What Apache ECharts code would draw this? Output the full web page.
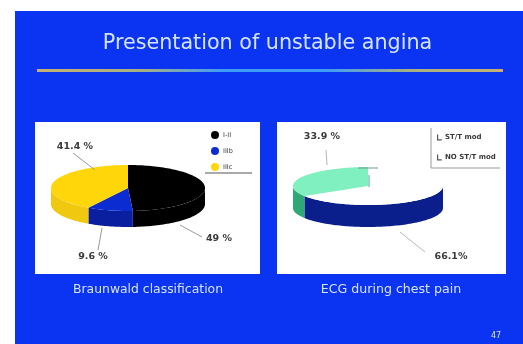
<!DOCTYPE html>
<html>
<head>
<meta charset="utf-8">
<style>html,body{margin:0;padding:0;background:#fff}#chart{width:523px;height:344px}</style>
<script src="https://cdn.jsdelivr.net/npm/echarts@6/dist/echarts.min.js"></script>
</head>
<body>
<div id="chart"></div>
<script>
// Slide data: Braunwald classes and ECG findings, in percent
const braunwaldNames = ['I-II', 'IIIb', 'IIIc'];
const braunwaldValues = [49, 9.6, 41.4];
const braunwaldLabels = ['49 %', '9.6 %', '41.4 %'];
const ecgNames = ['NO ST/T mod', 'ST/T mod'];
const ecgValues = [66.1, 33.9];
const ecgLabels = ['66.1%', '33.9 %'];

const slideTitle = 'Presentation of unstable angina';
const captionLeft = 'Braunwald classification';
const captionRight = 'ECG during chest pain';
const pageNumber = '47';

const BLUE = '#0a33f2';
const FONT = '"DejaVu Sans", sans-serif';

// Tilted pie geometry: angles run clockwise from twelve o'clock
const pies = [
  { cx: 128, cy: 188, rx: 77, ry: 23, depth: 16,
    names: braunwaldNames, values: braunwaldValues,
    top: ['#000000', '#0a2cd0', '#ffd60a'],
    wall: ['#000000', '#0a1ea0', '#f0c810'] },
  { cx: 368, cy: 186, rx: 75, ry: 19, depth: 22,
    names: ecgNames, values: ecgValues,
    top: ['#ffffff', '#80f0c0'],
    wall: ['#0a1e8c', '#2fa878'] }
];

function rimPoint(p, a, dy) {
  return [p.cx + p.rx * Math.sin(a), p.cy - p.ry * Math.cos(a) + (dy || 0)];
}

function arcPoints(p, a0, a1, dy) {
  const n = Math.max(2, Math.ceil(Math.abs(a1 - a0) / 0.03));
  const pts = [];
  for (let i = 0; i <= n; i++) pts.push(rimPoint(p, a0 + (a1 - a0) * i / n, dy));
  return pts;
}

function sliceSeries(p, i) {
  const total = p.values.reduce((s, v) => s + v, 0);
  const before = p.values.slice(0, i).reduce((s, v) => s + v, 0);
  return {
    type: 'custom',
    name: p.names[i],
    coordinateSystem: 'none',
    silent: true,
    itemStyle: { color: p.top[i] },
    data: [[before, p.values[i], total]],
    renderItem: function (params, api) {
      const a0 = api.value(0) / api.value(2) * Math.PI * 2;
      const a1 = a0 + api.value(1) / api.value(2) * Math.PI * 2;
      const children = [];
      // The rim is only visible along the front half of the ellipse
      const w0 = Math.max(a0, Math.PI / 2);
      const w1 = Math.min(a1, Math.PI * 1.5);
      if (w1 > w0) {
        const rim = arcPoints(p, w0, w1, 0).concat(arcPoints(p, w1, w0, p.depth));
        children.push({ type: 'polygon', shape: { points: rim },
          style: { fill: p.wall[i] } });
      }
      const face = [[p.cx, p.cy]].concat(arcPoints(p, a0, a1, 0));
      children.push({ type: 'polygon', shape: { points: face },
        style: { fill: p.top[i] } });
      return { type: 'group', children: children };
    }
  };
}

function text(x, y, str, size, color, weight) {
  return { type: 'text', z: 10, x: x, y: y,
    style: { text: str, fill: color, font: (weight || 'normal') + ' ' + size + 'px ' + FONT,
      textAlign: 'center', textVerticalAlign: 'middle' } };
}

function line(x1, y1, x2, y2, color) {
  return { type: 'line', z: 10, shape: { x1, y1, x2, y2 },
    style: { stroke: color, lineWidth: 1 } };
}

const dark = '#3a3a3a';
const pale = '#d6e4ff';
const graphics = [
  { type: 'rect', z: -3, shape: { x: 15, y: 11, width: 508, height: 333 }, style: { fill: BLUE } },
  { type: 'rect', z: -2, shape: { x: 37, y: 69, width: 466, height: 3 },
    style: { fill: new echarts.graphic.LinearGradient(0, 0, 1, 0, [
      { offset: 0, color: '#c8b070' }, { offset: 0.22, color: '#a8b080' },
      { offset: 0.4, color: '#3f9cf5' }, { offset: 0.62, color: '#3f9cf5' },
      { offset: 0.8, color: '#a8b080' }, { offset: 1, color: '#c8b070' }
    ]) } },
  { type: 'rect', z: -2, shape: { x: 35, y: 122, width: 225, height: 152 }, style: { fill: '#ffffff' } },
  { type: 'rect', z: -2, shape: { x: 277, y: 122, width: 229, height: 152 }, style: { fill: '#ffffff' } },
  text(267.5, 44, slideTitle, 20.7, pale),
  text(148, 290, captionLeft, 12.4, pale),
  text(391, 290, captionRight, 12.6, pale),
  text(496, 336, pageNumber, 8, pale),
  text(75, 147, braunwaldLabels[2], 9.5, dark, 'bold'),
  text(93, 257, braunwaldLabels[1], 9.5, dark, 'bold'),
  text(219, 239, braunwaldLabels[0], 9.5, dark, 'bold'),
  text(322, 137, ecgLabels[1], 9.5, dark, 'bold'),
  text(451, 257, ecgLabels[0], 9.5, dark, 'bold'),
  line(73, 153, 95, 170, '#9a9a9a'),
  line(98, 250, 102, 228, '#9a9a9a'),
  line(180, 225, 202, 237, '#9a9a9a'),
  line(326, 150, 327, 165, '#b5b5b5'),
  line(400, 232, 425, 252, '#b5b5b5'),
  line(205, 173, 252, 173, '#555555'),
  line(431, 128, 431, 168, '#999999'),
  line(431, 168, 500, 168, '#999999'),
  line(358, 168, 378, 168, '#6f9a88'),
  line(369, 175, 369, 187, '#3fae84')
];

const chart = echarts.init(document.getElementById('chart'), null, { renderer: 'canvas' });
chart.setOption({
  animation: false,
  backgroundColor: '#ffffff',
  legend: [
    { orient: 'vertical', left: 211, top: 131, itemWidth: 8, itemHeight: 8, itemGap: 8, icon: 'circle',
      data: braunwaldNames.map((n, i) => ({ name: n, itemStyle: { color: pies[0].top[i] } })),
      textStyle: { fontSize: 6.5, color: dark, fontFamily: FONT, padding: [0, 0, 0, -1] },
      padding: 0, selectedMode: false },
    { orient: 'vertical', left: 437, top: 134, itemWidth: 5, itemHeight: 6, itemGap: 13,
      icon: 'path://M0 0H2V8H8V10H0Z',
      data: ecgNames.slice().reverse().map(n => ({ name: n, itemStyle: { color: '#555555' } })),
      textStyle: { fontSize: 7, color: dark, fontFamily: FONT, fontWeight: 'bold', padding: [0, 0, 0, -2] },
      padding: 0, selectedMode: false }
  ],
  graphic: graphics,
  series: pies.flatMap(p => p.values.map((_, i) => sliceSeries(p, i)))
});
</script>
</body>
</html>
